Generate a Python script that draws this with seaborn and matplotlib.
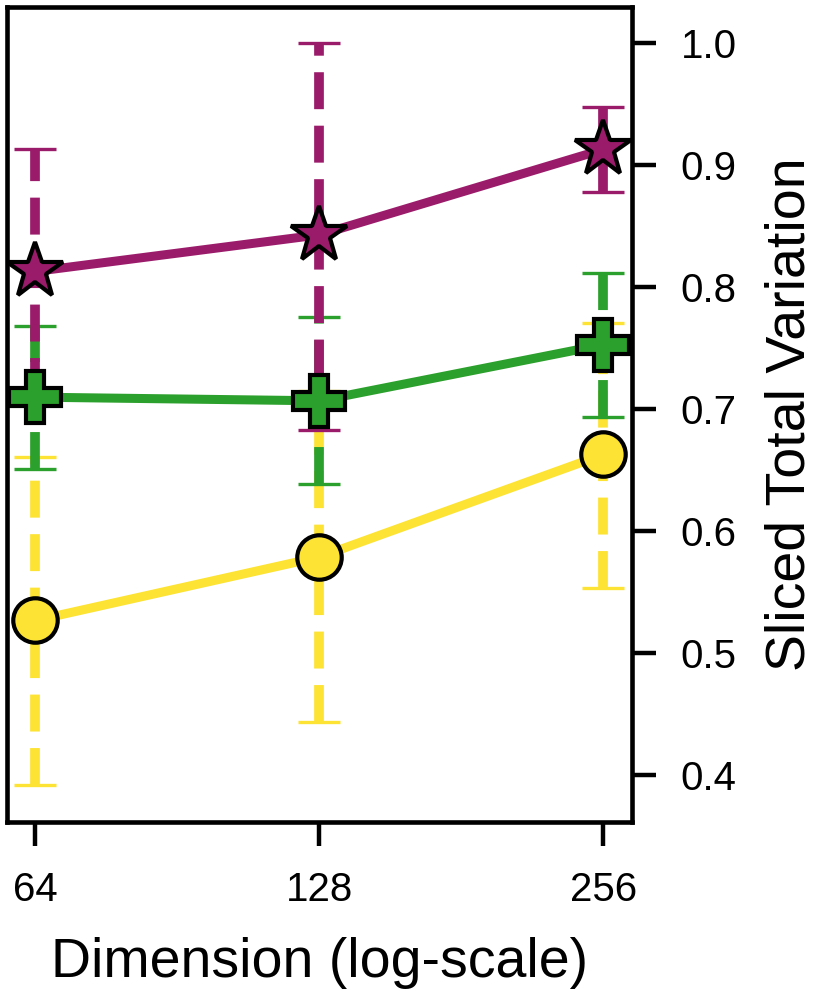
import numpy as np
import pandas as pd
import matplotlib.pyplot as plt
import seaborn as sns

# values
dims = [64, 128, 256]

star_mean = [0.813, 0.843, 0.913]
star_lo = [0.712, 0.683, 0.878]
star_hi = [0.913, 1.000, 0.948]

plus_mean = [0.710, 0.707, 0.753]
plus_lo = [0.651, 0.639, 0.694]
plus_hi = [0.768, 0.776, 0.812]

circle_mean = [0.527, 0.579, 0.663]
circle_lo = [0.392, 0.444, 0.554]
circle_hi = [0.661, 0.715, 0.771]

y_ticks = [0.4, 0.5, 0.6, 0.7, 0.8, 0.9, 1.0]

sns.set_theme(style='ticks')
plt.rcParams['font.family'] = ['Liberation Sans', 'DejaVu Sans']
plt.rcParams['text.color'] = 'black'
plt.rcParams['axes.labelcolor'] = 'black'

fig = plt.figure(figsize=(8.28, 9.99), dpi=100)
ax = fig.add_axes([0.009, 0.177, 0.754, 0.816])

series = [
    ('circle', circle_mean, circle_lo, circle_hi, '#fde334', 'o', 32),
    ('plus', plus_mean, plus_lo, plus_hi, '#2ca02c', 'P', 37),
    ('star', star_mean, star_lo, star_hi, '#9b1b6b', '*', 42),
]

# ── error bars (dashed) ──
for name, mean, lo, hi, color, marker, ms in series:
    mean = np.array(mean)
    yerr = [mean - np.array(lo), np.array(hi) - mean]
    eb = ax.errorbar(dims, mean, yerr=yerr, fmt='none', ecolor=color,
                     elinewidth=7, capsize=15, capthick=2.4, zorder=2)
    eb[2][0].set_linestyle((0, (3.8, 1.7)))

# ── lines with markers ──
for name, mean, lo, hi, color, marker, ms in series:
    df = pd.DataFrame({'dim': dims, 'value': mean})
    sns.lineplot(data=df, x='dim', y='value', color=color, linewidth=6.5,
                 marker=marker, markersize=ms, markeredgecolor='black',
                 markeredgewidth=3.0, ax=ax, zorder=3)

ax.set_xscale('log', base=2)
ax.set_xlim(59.8, 274.3)
ax.set_ylim(0.3617, 1.0297)
ax.set_xticks(dims)
ax.set_xticklabels([str(d) for d in dims])
ax.xaxis.set_minor_locator(plt.NullLocator())
ax.set_yticks(y_ticks)
ax.set_yticklabels([f'{t:.1f}' for t in y_ticks])

ax.yaxis.tick_right()
ax.yaxis.set_label_position('right')
ax.tick_params(axis='both', direction='out', length=17, width=3.2,
               labelsize=29, pad=18, colors='black')

for sp in ax.spines.values():
    sp.set_visible(True)
    sp.set_linewidth(3.3)
    sp.set_color('black')

ax.set_xlabel('Dimension (log-scale)', fontsize=40, labelpad=20)
ax.set_ylabel('Sliced Total Variation', fontsize=40, labelpad=20)
ax.grid(False)

plt.savefig('out.png', dpi=100)
plt.close()
